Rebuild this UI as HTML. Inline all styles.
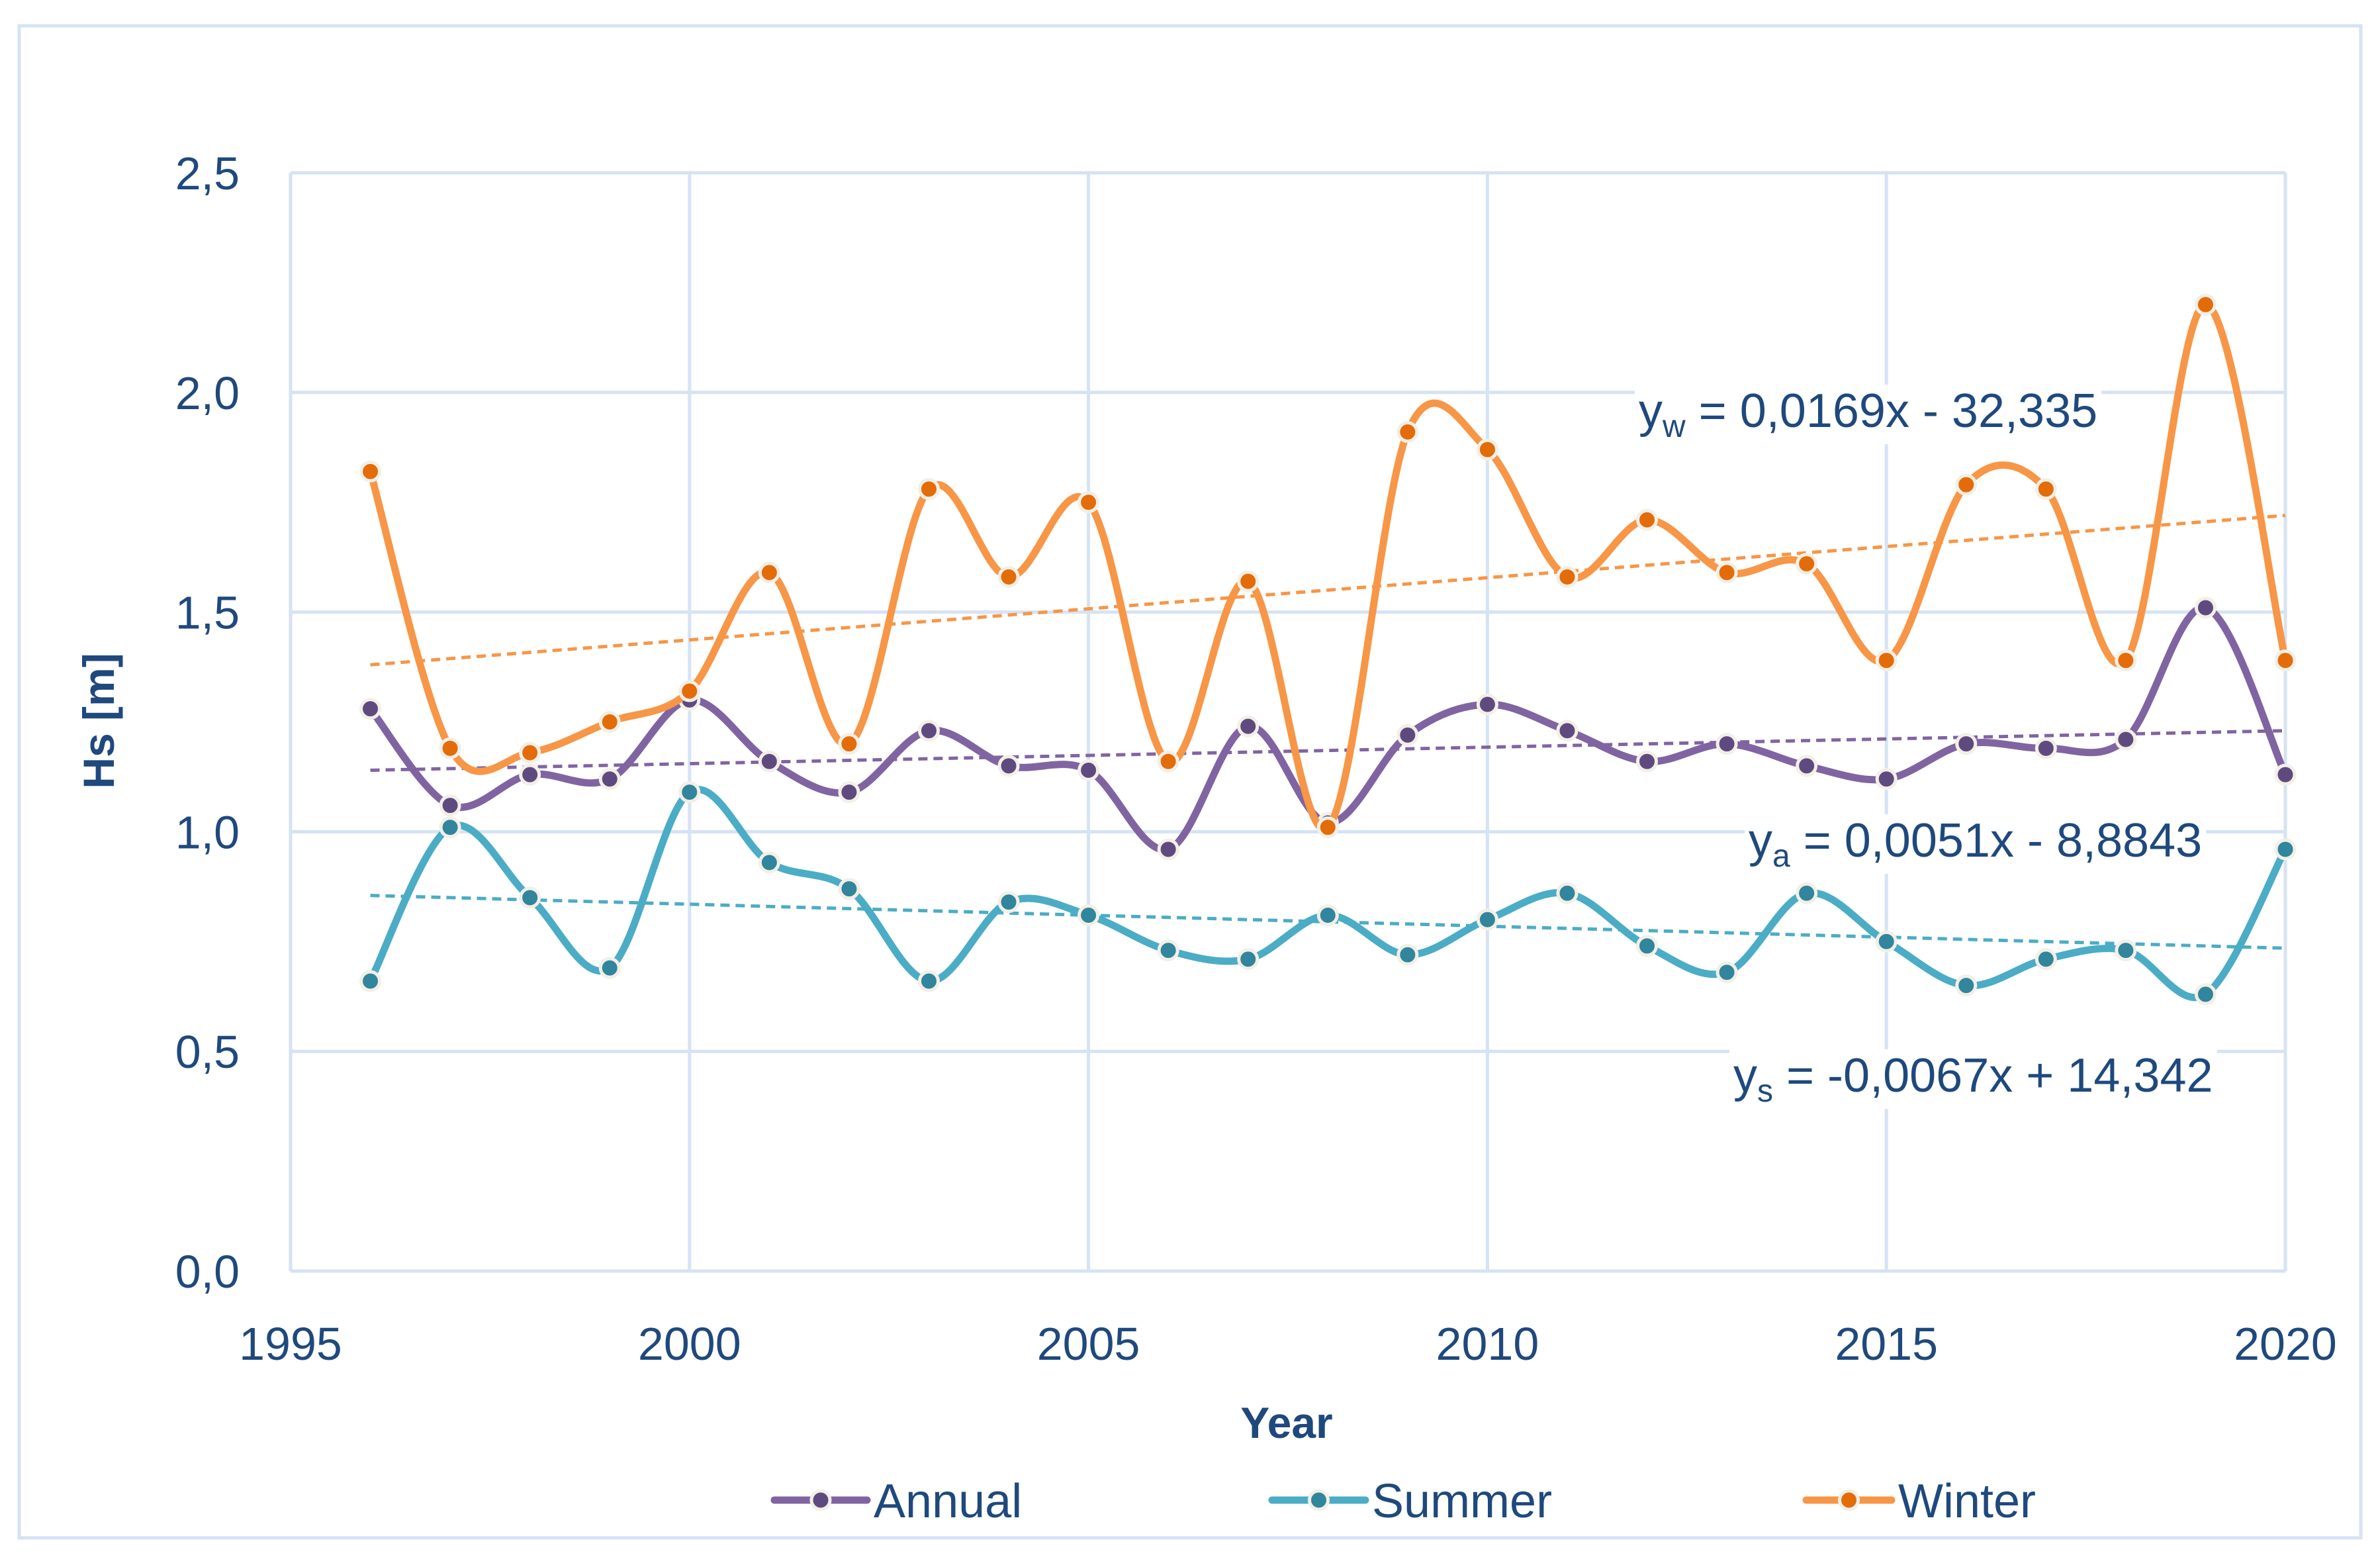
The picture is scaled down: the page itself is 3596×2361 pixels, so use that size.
<!DOCTYPE html>
<html><head><meta charset="utf-8">
<style>
html,body{margin:0;padding:0;background:#fff;}
svg{display:block;font-family:"Liberation Sans",sans-serif;}
</style></head>
<body>
<svg id="chart" width="3596" height="2361" viewBox="0 0 3596 2361" xmlns="http://www.w3.org/2000/svg">
<rect x="29" y="39" width="3538" height="2284" fill="#fff" stroke="#d6e3f3" stroke-width="5"/>
<g id="grid"></g>
<g id="axes"></g>
<g id="trends"></g>
<g id="series"></g>
<g id="eqs"></g>
<g id="legend"></g>
</svg>
<script>
const years = [1996,1997,1998,1999,2000,2001,2002,2003,2004,2005,2006,2007,2008,2009,2010,2011,2012,2013,2014,2015,2016,2017,2018,2019,2020];
const winter = [1.82,1.19,1.18,1.25,1.32,1.59,1.20,1.78,1.58,1.75,1.16,1.57,1.01,1.91,1.87,1.58,1.71,1.59,1.61,1.39,1.79,1.78,1.39,2.20,1.39];
const annual = [1.28,1.06,1.13,1.12,1.30,1.16,1.09,1.23,1.15,1.14,0.96,1.24,1.02,1.22,1.29,1.23,1.16,1.20,1.15,1.12,1.20,1.19,1.21,1.51,1.13];
const summer = [0.66,1.01,0.85,0.69,1.09,0.93,0.87,0.66,0.84,0.81,0.73,0.71,0.81,0.72,0.80,0.86,0.74,0.68,0.86,0.75,0.65,0.71,0.73,0.63,0.96];
const trendWinter = [1.38,1.72];
const trendAnnual = [1.14,1.23];
const trendSummer = [0.855,0.735];
const xTicks = [1995,2000,2005,2010,2015,2020];
const yTicks = [0,0.5,1.0,1.5,2.0,2.5];
const yTickLabels = ["0,0","0,5","1,0","1,5","2,0","2,5"];

const NS="http://www.w3.org/2000/svg";
const L=439,R=3453,T=261,B=1920;
const X=v=>L+(v-1995)/25*(R-L);
const Y=v=>B-v/2.5*(B-T);
function mk(tag,attrs,parent){const e=document.createElementNS(NS,tag);for(const k in attrs)e.setAttribute(k,attrs[k]);parent.appendChild(e);return e;}
const grid=document.getElementById('grid'),axes=document.getElementById('axes');
const TXT="#1f497d";
yTicks.forEach((v,i)=>{
  const ln=mk('line',{x1:L,x2:R,y1:Y(v),y2:Y(v),stroke:'#d6e3f3','stroke-width':5},grid);
  
  
  const t=mk('text',{x:362,y:Y(v)+25,'text-anchor':'end','font-size':70,fill:TXT},axes);
  t.textContent=yTickLabels[i];
  
  
});
xTicks.forEach(v=>{
  const ln=mk('line',{x1:X(v),x2:X(v),y1:T,y2:B,stroke:'#d6e3f3','stroke-width':5},grid);
  
  
  const t=mk('text',{x:X(v),y:2054,'text-anchor':'middle','font-size':70,fill:TXT},axes);
  t.textContent=String(v);
  
  
});
let yt=mk('text',{x:0,y:0,'text-anchor':'middle','font-size':66,'font-weight':'bold',fill:TXT,transform:'translate(172,1089) rotate(-90)'},axes);
yt.textContent='Hs [m]';


let xt=mk('text',{x:1944,y:2172,'text-anchor':'middle','font-size':66,'font-weight':'bold',fill:TXT},axes);
xt.textContent='Year';



const trends=document.getElementById('trends');
[[trendWinter,'#f79646','trend-winter'],[trendAnnual,'#8064a2','trend-annual'],[trendSummer,'#4bacc6','trend-summer']].forEach(([tr,c,n])=>{
  const ln=mk('line',{x1:X(years[0]),x2:X(years[years.length-1]),y1:Y(tr[0]),y2:Y(tr[1]),stroke:c,'stroke-width':5,'stroke-dasharray':'14 9'},trends);
  
  
});

function smooth(pts){
  let d=`M${pts[0][0]},${pts[0][1]}`;
  for(let i=0;i<pts.length-1;i++){
    const p0=pts[Math.max(i-1,0)],p1=pts[i],p2=pts[i+1],p3=pts[Math.min(i+2,pts.length-1)];
    const c1=[p1[0]+(p2[0]-p0[0])/6,p1[1]+(p2[1]-p0[1])/6];
    const c2=[p2[0]-(p3[0]-p1[0])/6,p2[1]-(p3[1]-p1[1])/6];
    d+=` C${c1[0]},${c1[1]} ${c2[0]},${c2[1]} ${p2[0]},${p2[1]}`;
  }
  return d;
}
const sg=document.getElementById('series');
[[summer,'#4bacc6','#31859c','summer'],[annual,'#8064a2','#5f4a80','annual'],[winter,'#f79646','#e36c09','winter']].forEach(([vals,c,mc,n])=>{
  const pts=vals.map((v,i)=>[X(years[i]),Y(v)]);
  const p=mk('path',{d:smooth(pts),fill:'none',stroke:c,'stroke-width':11,'stroke-linejoin':'round'},sg);
  
  
  pts.forEach(pt=>{
    const m=mk('circle',{cx:pt[0],cy:pt[1],r:14,fill:mc,stroke:'#f3efe6','stroke-width':5},sg);
    
    
  });
});

const eqs=document.getElementById('eqs');
function eq(x,y,sub,rest,n){
  const t=mk('text',{x:x,y:y,'font-size':72,fill:TXT},eqs);
  
  
  const a=mk('tspan',{},t);a.textContent='y';
  const b=mk('tspan',{dy:15,'font-size':48},t);b.textContent=sub;
  const c=mk('tspan',{dy:-15},t);c.textContent=rest;
  const bb=t.getBBox();
  const r=document.createElementNS(NS,'rect');
  r.setAttribute('x',bb.x-6);r.setAttribute('y',bb.y);r.setAttribute('width',bb.width+12);r.setAttribute('height',bb.height);r.setAttribute('fill','#fff');
  eqs.insertBefore(r,t);
}
eq(2476,645,'w',' = 0,0169x - 32,335','equation-winter');
eq(2642,1294,'a',' = 0,0051x - 8,8843','equation-annual');
eq(2619,1649,'s',' = -0,0067x + 14,342','equation-summer');

const lg=document.getElementById('legend');
[[1170,1320,'#8064a2','#5f4a80','Annual'],[1922,2073,'#4bacc6','#31859c','Summer'],[2729,2868,'#f79646','#e36c09','Winter']].forEach(([x1,tx,c,mc,label])=>{
  const g=mk('g',{},lg);
  
  
  mk('line',{x1:x1,x2:tx-10,y1:2266,y2:2266,stroke:c,'stroke-width':11,'stroke-linecap':'round'},g);
  mk('circle',{cx:(x1+tx-10)/2,cy:2266,r:14,fill:mc,stroke:'#f3efe6','stroke-width':5},g);
  const t=mk('text',{x:tx,y:2292,'font-size':72,fill:TXT},g);
  t.textContent=label;
});
</script>
</body></html>
